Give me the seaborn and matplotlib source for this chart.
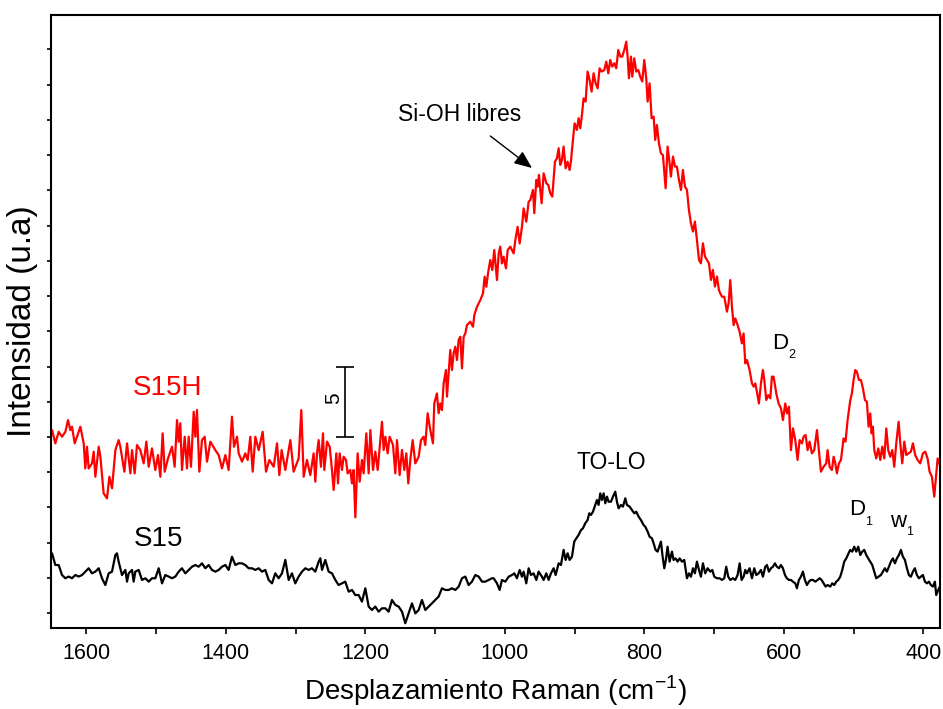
import matplotlib
matplotlib.use("Agg")
import matplotlib.pyplot as plt
import seaborn as sns
import pandas as pd

# ---------------- data ----------------
red_x = [1649.2, 1644.5, 1639.7, 1634.9, 1630.1, 1626.3, 1623.0, 1620.6, 1616.7, 1613.4,
         1608.6, 1603.8, 1601.5, 1599.1, 1596.7, 1591.9, 1589.5, 1587.1, 1582.3, 1579.9,
         1575.2, 1570.4, 1567.0, 1563.2, 1558.4, 1553.7, 1551.3, 1545.5, 1541.7, 1536.9,
         1534.5, 1530.7, 1527.4, 1522.6, 1517.8, 1514.0, 1510.6, 1505.9, 1501.1, 1497.3,
         1493.9, 1490.6, 1487.7, 1482.9, 1477.2, 1473.4, 1470.0, 1467.6, 1465.3, 1462.9,
         1459.0, 1455.7, 1453.3, 1450.0, 1446.1, 1443.7, 1441.4, 1438.0, 1434.2, 1430.4,
         1427.0, 1422.2, 1415.1, 1410.3, 1405.5, 1400.7, 1396.0, 1391.2, 1388.3, 1384.0,
         1381.6, 1376.8, 1372.1, 1368.7, 1364.9, 1361.5, 1357.7, 1352.9, 1347.2, 1342.4,
         1337.6, 1331.4, 1326.6, 1323.3, 1320.0, 1314.7, 1307.5, 1302.8, 1295.6, 1291.8,
         1288.4, 1283.7, 1278.9, 1274.1, 1271.7,
         1269.3, 1266.9, 1263.6, 1260.7, 1258.8, 1254.9, 1251.1, 1247.8, 1245.4, 1241.6,
         1239.2, 1236.8, 1233.5, 1231.1, 1227.7, 1225.3, 1221.5, 1219.1, 1216.8, 1214.3,
         1211.0, 1208.1, 1204.8, 1202.4, 1198.6, 1195.2, 1192.8, 1189.0, 1185.7, 1182.3,
         1178.5, 1176.1, 1173.7, 1171.3, 1168.0, 1165.1, 1160.3, 1157.0, 1154.6, 1150.8,
         1147.4, 1144.1, 1141.2, 1138.4, 1135.5, 1132.1, 1128.3, 1123.5, 1120.2, 1116.4,
         1114.0, 1110.6, 1106.8, 1103.0, 1101.1, 1097.3, 1094.9, 1092.5, 1090.1, 1087.7,
         1084.4, 1082.9, 1080.5, 1078.2, 1075.8, 1073.4, 1071.0, 1068.6, 1066.2, 1063.8,
         1061.4, 1059.0, 1056.6, 1054.2, 1049.5, 1045.6, 1043.7, 1039.9, 1037.5, 1035.1,
         1031.3, 1028.9, 1026.5, 1024.1, 1020.8, 1017.9, 1015.1, 1011.2, 1008.8, 1006.5,
         1004.1, 1001.7, 998.3, 995.9, 992.1, 987.3, 984.9, 981.6, 978.7, 975.4,
         973.0, 969.2, 965.8, 963.5,
         959.6, 957.7, 954.9, 952.9, 951.0, 949.1, 947.2, 944.3, 940.5, 937.7,
         934.8, 931.9, 928.1, 925.2, 922.8, 920.5, 918.1, 915.7, 912.8, 910.0,
         907.1, 905.2, 902.3, 899.9, 896.6, 894.2, 891.8, 889.4, 887.0, 884.1,
         881.3, 878.4, 875.5, 872.7, 869.8, 866.9, 864.1, 861.2, 857.4, 854.5,
         851.6, 848.8, 845.9, 843.0, 840.2, 837.3, 834.4, 831.6, 828.7, 825.8,
         823.9, 822.0, 819.1, 817.2, 814.4, 811.5, 808.6, 805.8, 802.9, 800.0,
         797.2, 795.2, 792.4, 789.5, 786.6, 784.3, 781.9, 779.0, 776.1, 773.3,
         769.4, 766.6, 763.7, 761.8, 758.9, 756.0, 753.2, 750.3, 747.4, 744.6,
         741.7, 738.8, 736.0, 733.1, 730.2, 727.4, 724.5, 721.6, 718.8, 715.9,
         713.0, 710.2, 707.3, 704.4, 701.6, 698.7, 695.8, 693.0, 691.1,
         688.6, 685.3, 681.5, 679.1, 676.7, 674.3, 671.9, 669.5, 666.2, 663.3,
         660.0, 657.6, 655.2, 652.8, 649.0, 645.6, 643.2, 640.8, 638.5, 635.6,
         632.7, 629.9, 627.9, 625.1, 622.2, 619.3, 617.0, 614.6, 610.7, 607.4,
         604.0, 601.2, 597.8, 595.4, 592.6, 589.7, 586.8, 583.5, 580.2, 577.3,
         573.9, 571.6, 568.7, 565.8, 563.0, 559.6, 556.3, 552.4, 549.6, 546.7,
         542.9, 539.1, 537.2, 534.3, 531.0, 528.5, 526.1, 523.8, 520.9, 518.0,
         514.2, 511.4, 508.5, 504.6, 502.3, 499.9, 497.5, 495.1, 492.2, 489.3,
         486.5, 483.6, 480.8, 478.4, 476.0, 474.1, 472.2, 470.2, 467.4, 464.5,
         461.6, 458.8, 455.9, 453.0, 450.2, 447.3, 444.4, 441.6, 438.7, 435.3,
         432.9, 430.1, 427.2, 424.3, 421.0, 417.7, 414.8, 411.5, 408.1, 404.3,
         400.5, 397.1, 393.8, 390.9, 387.6, 384.2, 381.3, 379.4, 376.6, 374.7]

red_y = [10.49, 9.55, 10.37, 10.02, 10.37, 11.20, 10.49, 10.73, 9.55, 10.02,
         10.73, 9.55, 7.77, 9.31, 7.77, 8.13, 8.96, 7.18, 9.31, 8.60,
         6.00, 5.65, 7.18, 6.36, 9.07, 9.78, 9.31, 7.54, 9.55, 7.42,
         9.07, 7.42, 9.43, 9.07, 8.13, 9.67, 7.89, 9.19, 7.66, 8.72,
         7.18, 10.26, 7.54, 8.48, 9.31, 7.89, 11.20, 9.67, 10.97, 7.66,
         10.02, 7.77, 10.02, 7.89, 11.79, 10.02, 11.91, 7.54, 9.78, 10.02,
         8.25, 9.67, 9.07, 8.72, 7.77, 8.72, 7.66, 11.44, 9.31, 10.02,
         8.84, 8.25, 8.84, 8.37, 10.02, 7.54, 10.02, 9.07, 10.37, 7.54,
         8.37, 7.89, 9.55, 7.30, 9.07, 7.66, 9.78, 7.54, 8.48, 11.91,
         7.18, 8.37, 7.30, 8.84, 6.83,
         8.84, 9.78, 7.89, 10.26, 7.66, 9.67, 9.31, 7.66, 6.24, 8.84,
         6.71, 8.84, 7.66, 8.60, 8.37, 7.42, 7.66, 6.71, 7.66, 4.30,
         8.84, 6.83, 8.37, 7.42, 10.26, 7.42, 10.49, 7.66, 8.96, 7.66,
         9.78, 11.08, 9.08, 10.02, 8.84, 10.02, 9.43, 7.42, 9.78, 7.30,
         9.08, 7.66, 8.84, 6.71, 8.37, 9.78, 8.13, 8.60, 9.78, 10.02,
         9.43, 11.68, 10.49, 9.55, 12.38, 13.09, 11.68, 12.38, 11.91, 13.80,
         14.75, 12.86, 14.51, 16.17, 14.75, 15.93, 16.40, 15.46, 16.88, 17.11,
         14.87, 17.11, 17.35, 17.94, 18.18, 17.82, 18.65, 19.24, 19.48, 19.71,
         20.19, 21.37, 20.66, 21.60, 22.55, 21.84, 23.26, 21.13, 23.02, 23.50,
         22.31, 22.79, 21.96, 23.26, 23.50, 23.02, 23.97, 24.91, 23.73, 24.91,
         26.21, 25.27, 26.69, 26.80,
         27.52, 25.87, 28.23, 27.76, 28.59, 27.52, 26.58, 28.70, 28.00, 27.88,
         27.29, 27.05, 29.53, 29.77, 30.48, 29.30, 29.65, 30.60, 29.06, 29.53,
         28.94, 29.53, 31.07, 32.25, 31.78, 32.61, 31.90, 32.84, 34.02, 33.79,
         35.92, 35.32, 34.50, 35.80, 35.09, 34.73, 36.15, 35.92, 36.03, 36.62,
         35.80, 36.74, 36.27, 36.51, 36.15, 37.45, 36.98, 36.98, 37.45, 38.04,
         36.98, 35.44, 36.98, 35.56, 36.86, 35.92, 36.03, 35.56, 35.21, 36.74,
         35.44, 33.79, 35.09, 32.61, 32.72, 31.07, 32.13, 30.83, 30.12, 30.00,
         27.64, 30.60, 29.41, 28.47, 29.89, 29.18, 29.18, 28.23, 27.52, 28.94,
         27.76, 27.52, 26.11, 25.16, 24.57, 25.28, 23.98, 22.56, 22.32, 23.74,
         22.80, 22.56, 22.32, 21.14, 21.85, 20.67, 21.38, 20.43, 20.19,
         19.95, 19.95, 18.89, 19.48, 21.13, 19.24, 17.94, 18.41, 17.94, 17.47,
         16.64, 17.35, 15.22, 15.46, 14.75, 13.80, 13.57, 13.80, 13.21, 12.38,
         13.80, 14.75, 14.04, 12.62, 12.97, 12.74, 14.28, 14.28, 13.09, 12.38,
         12.03, 11.20, 12.38, 11.67, 12.15, 9.07, 10.61, 9.78, 8.37, 9.78,
         9.55, 10.02, 10.14, 9.07, 9.67, 8.84, 9.07, 10.49, 9.07, 7.54,
         7.89, 8.13, 9.07, 7.89, 7.66, 8.60, 8.13, 7.42, 8.13, 8.37,
         9.90, 9.67, 11.20, 12.62, 13.09, 14.04, 14.75, 14.63, 14.04, 14.04,
         13.45, 12.62, 12.50, 10.73, 11.67, 10.26, 10.73, 9.07, 8.48, 9.19,
         8.37, 9.31, 8.48, 10.61, 9.07, 8.60, 9.07, 7.89, 9.55, 11.08,
         9.55, 8.13, 9.67, 8.72, 8.84, 8.96, 9.55, 8.72, 8.37, 8.13,
         8.84, 8.96, 8.48, 7.54, 7.18, 5.77, 7.42, 8.48, 8.13, 7.54]

black_x = [1649.2, 1644.5, 1639.7, 1634.9, 1630.1, 1625.3, 1620.6, 1615.8, 1611.0, 1606.2,
           1601.5, 1596.7, 1591.9, 1587.1, 1582.3, 1577.6, 1572.8, 1568.0, 1563.2, 1558.4,
           1556.1, 1553.7, 1548.9, 1544.1, 1541.7, 1539.3, 1534.5, 1532.2, 1529.8, 1525.0,
           1520.2, 1515.4, 1510.6, 1505.9, 1501.1, 1496.3, 1491.5, 1486.8, 1482.0, 1477.2,
           1472.4, 1467.6, 1462.9, 1458.1, 1453.3, 1448.5, 1443.7, 1439.0, 1434.2, 1429.4,
           1424.6, 1419.9, 1415.1, 1410.3, 1405.5, 1400.7, 1396.0, 1391.2, 1386.4, 1381.6,
           1376.8, 1372.1, 1367.3, 1362.5, 1357.7, 1352.9, 1348.2, 1343.4, 1338.6, 1333.8,
           1329.1, 1324.3, 1319.5, 1314.7, 1309.9, 1305.2, 1300.4, 1295.6, 1290.8, 1286.0,
           1281.3, 1276.5, 1271.7, 1266.9, 1264.5, 1262.1, 1257.4, 1252.6, 1247.8, 1243.0,
           1238.3, 1233.5, 1228.7, 1223.9, 1219.1, 1214.4, 1209.6, 1204.8, 1200.0, 1195.2,
           1190.5, 1185.7, 1180.9, 1176.1, 1171.3, 1166.6, 1161.8, 1157.0, 1152.2, 1147.4,
           1142.7, 1137.9, 1133.1, 1128.3, 1123.5, 1118.8, 1114.0, 1109.2, 1104.4, 1099.7,
           1094.9, 1090.1, 1085.3, 1080.5, 1075.8, 1071.0, 1066.2, 1061.4, 1056.6, 1051.9,
           1047.1, 1042.3, 1037.5, 1032.7, 1028.0, 1023.2, 1018.4,
           1016.0, 1011.2, 1007.4, 1004.1, 999.3, 994.5, 989.7, 986.4, 982.6, 978.7,
           975.4, 973.0, 969.2, 965.8, 962.5, 958.7, 954.8, 951.5, 946.7, 944.3,
           940.5, 937.2, 933.8, 930.0, 927.1, 922.8, 919.5, 915.7, 912.8, 909.9,
           907.1, 903.7, 900.4, 897.5, 894.2, 890.8, 888.0, 884.6, 881.3, 878.9,
           876.5, 873.6, 870.3, 867.9, 865.5, 863.1, 860.7, 858.3, 855.9, 853.5,
           851.2, 847.8, 844.9, 841.6, 839.2, 836.8, 833.5, 830.6, 827.2, 824.9,
           821.0, 817.7, 814.3, 811.5, 808.1, 804.8, 801.0, 798.6, 795.2, 792.4,
           789.0, 786.6, 783.8, 780.9, 778.5, 776.1, 773.7, 771.3, 769.0, 766.6,
           763.7, 760.3, 758.0, 755.1, 752.2, 749.3, 746.0, 742.7, 738.8, 736.0,
           733.1, 730.2, 727.4, 724.5, 721.6, 718.8, 715.9, 712.6, 709.2, 705.4,
           702.5, 699.6, 695.8, 692.0, 688.7, 685.3, 682.5, 679.6, 676.7, 672.9,
           669.5, 666.2, 663.3, 660.5, 657.6, 655.2, 652.8, 649.0, 645.6, 642.3,
           639.4, 636.1, 632.7, 629.9, 626.5, 624.1, 621.3, 618.4, 615.5, 612.7,
           609.8, 606.9, 604.1, 601.2, 598.3, 595.5, 592.6, 589.7, 586.9, 583.5,
           581.1, 578.3, 575.4, 572.5, 569.7, 566.8, 563.9, 561.1, 558.2, 554.8,
           551.5, 548.6, 545.8, 542.9, 540.0, 537.2, 533.3, 530.5, 527.6, 524.7,
           521.9, 519.0, 516.1, 513.3, 510.4, 507.1, 504.7, 501.8, 498.9, 496.1,
           493.2, 490.3, 487.5, 484.6, 481.7, 478.9, 476.0, 473.1, 470.3, 467.4,
           464.1, 460.7, 457.8, 455.0, 452.1, 449.2, 446.4, 443.5, 440.6, 437.8,
           434.9, 432.0, 429.2, 426.3, 423.4, 420.6, 417.7, 414.8, 412.0, 409.1,
           406.2, 403.4, 400.5, 397.6, 394.7, 391.9, 389.0, 386.1, 383.3, 381.4,
           378.5, 376.1]

black_y = [1.75, 0.92, 0.92, 0.21, -0.02, 0.10, -0.02, 0.21, 0.10, 0.21,
           0.45, 0.69, 0.33, 0.45, 0.69, -0.02, -0.50, 0.33, 0.45, 1.63,
           1.75, 1.16, 0.21, 0.57, -0.26, 0.33, 0.57, -0.26, 0.45, 0.57,
           -0.14, -0.02, -0.26, -0.02, -0.02, 0.69, -0.38, 0.21, 0.10, -0.02,
           0.10, 0.45, 0.69, 0.33, 0.57, 0.80, 0.92, 0.80, 1.04, 0.69,
           0.92, 0.57, 0.45, 0.57, 0.80, 0.92, 0.57, 1.51, 0.92, 1.04,
           1.04, 0.92, 0.69, 0.69, 0.57, 0.69, 0.45, 0.57, -0.14, -0.38,
           0.33, -0.02, 0.33, 1.28, -0.14, 0.33, -0.38, 0.10, 0.45, 0.69,
           0.57, 0.69, 0.45, 1.16, 1.40, 0.57, 1.28, 0.45, 0.33, -0.14,
           -0.50, -0.38, -0.26, -0.97, -0.85, -1.21, -1.21, -1.68, -0.73, -2.03,
           -2.27, -2.03, -2.39, -2.15, -2.15, -2.39, -1.56, -1.91, -2.03, -2.39,
           -3.21, -2.51, -1.80, -2.51, -2.27, -1.56, -2.27, -2.03, -1.80, -1.56,
           -1.32, -0.73, -0.85, -0.85, -0.73, -0.85, -0.62, -0.02, 0.10, -0.50,
           -0.26, 0.21, 0.10, -0.26, -0.26, -0.14, -0.02,
           -0.02, -0.38, -0.85, -0.14, -0.26, 0.09, 0.21, 0.33, -0.02, 0.57,
           0.09, 0.45, -0.38, 0.69, 0.21, 0.33, -0.14, 0.45, 0.09, -0.14,
           0.33, -0.14, 0.33, 0.69, 0.21, 1.04, 0.92, 1.99, 1.28, 1.75,
           1.28, 1.51, 2.58, 2.81, 3.05, 3.40, 3.52, 3.88, 4.11, 4.59,
           4.47, 4.70, 5.18, 5.53, 5.18, 6.00, 5.53, 6.00, 5.30, 5.77,
           5.41, 5.41, 5.77, 6.12, 5.41, 4.94, 5.18, 5.06, 5.65, 5.18,
           5.06, 4.82, 4.59, 4.70, 4.35, 4.11, 3.76, 3.64, 3.29, 2.93,
           2.81, 2.46, 1.99, 1.87, 2.22, 2.58, 1.51, 0.69, 1.28, 2.22,
           1.16, 1.87, 1.28, 1.39, 1.16, 1.39, 1.16, 1.28, -0.02, 0.33,
           0.09, 0.69, 0.33, 1.16, 0.57, 0.09, 1.04, 0.33, 0.69, 0.45,
           0.57, 0.09, -0.02, -0.02, -0.14, -0.02, 0.80, 0.09, -0.14, -0.02,
           -0.14, 0.21, 1.04, -0.14, 0.09, 0.57, 0.33, 0.69, -0.02, 0.69,
           0.21, 0.33, 0.57, 0.09, 0.80, 0.92, 0.45, 0.69, 0.80, 1.04,
           0.80, 0.69, 0.92, 0.69, 0.21, -0.02, -0.14, -0.14, -0.26, -0.38,
           -0.73, -0.14, 0.09, 0.45, -0.14, -0.50, -0.26, -0.14, -0.14, -0.26,
           -0.14, -0.02, -0.14, -0.38, -0.61, -0.50, -0.61, -0.38, -0.50, -0.26,
           -0.14, 0.09, 0.57, 1.16, 1.39, 1.75, 1.99, 1.87, 2.22, 1.87,
           2.22, 1.63, 1.87, 1.99, 1.63, 1.39, 1.16, 0.92, 0.45, -0.02,
           0.09, 0.21, 0.45, 0.69, 0.45, 0.80, 1.16, 1.39, 1.04, 1.39,
           1.63, 1.99, 1.51, 1.28, 0.69, 0.21, 0.09, 0.45, 0.69, 0.21,
           -0.02, 0.09, 0.21, -0.26, -0.38, -0.26, -0.50, -0.61, -0.26, -1.21,
           -0.85, -0.61]

series_names = ["S15H", "S15"]
x_ticks = [1600, 1400, 1200, 1000, 800, 600, 400]
x_tick_labels = ["1600", "1400", "1200", "1000", "800", "600", "400"]
scale_bar = (1229, 10.0, 15.0)   # x, y from, y to  (5 units)

# ---------------- figure ----------------
sns.set_style("ticks")
plt.rcParams["font.family"] = ["Liberation Sans", "DejaVu Sans"]
plt.rcParams["axes.linewidth"] = 1.5
for key in ["text.color", "axes.labelcolor", "xtick.color", "ytick.color", "axes.edgecolor"]:
    plt.rcParams[key] = "black"

fig = plt.figure(figsize=(9.43, 7.09), dpi=100)
ax = fig.add_axes([0.0546, 0.1142, 0.9422, 0.8646])

df_red = pd.DataFrame({"x": red_x, "y": red_y})
df_blk = pd.DataFrame({"x": black_x, "y": black_y})
sns.lineplot(data=df_red, x="x", y="y", color="#ff0000", lw=1.6,
             estimator=None, sort=False, ax=ax)
sns.lineplot(data=df_blk, x="x", y="y", color="black", lw=1.6,
             estimator=None, sort=False, ax=ax)

ax.set_xlim(1650, 376)
ax.set_ylim(-3.55, 39.93)

ax.set_xticks(x_ticks)
ax.set_xticks(list(range(400, 1700, 100)), minor=True)
ax.set_xticklabels(x_tick_labels, fontsize=15.5)
ax.set_yticks([0, 5, 10, 15, 20, 25, 30, 35])
ax.set_yticks([-2.5, 2.5, 7.5, 12.5, 17.5, 22.5, 27.5, 32.5, 37.5], minor=True)
ax.set_yticklabels([])
ax.tick_params(axis="x", which="both", direction="out", length=4.5, width=1.2, pad=6)
ax.tick_params(axis="y", which="both", direction="out", length=3, width=1.2)
for s in ax.spines.values():
    s.set_visible(True)
    s.set_linewidth(1.5)
    s.set_color("black")

ax.set_xlabel(r"Desplazamiento Raman (cm$^{\mathregular{-1}}$)", fontsize=20, labelpad=7)
ax.set_ylabel("Intensidad (u.a)", fontsize=24, labelpad=3)

# annotations
ax.text(1484, 13.5, series_names[0], color="#ff0000", fontsize=20, ha="center", va="center")
ax.text(1497, 2.8, series_names[1], color="black", fontsize=20, ha="center", va="center")
ax.text(847, 8.2, "TO-LO", fontsize=16.5, ha="center", va="center")
ax.text(1065, 32.9, "Si-OH libres", fontsize=16.5, ha="center", va="center")
ax.annotate("", xy=(961, 29.08), xytext=(1020.8, 31.35),
            arrowprops=dict(arrowstyle="-|>,head_length=0.6,head_width=0.25",
                            color="black", lw=1.0, mutation_scale=18, shrinkA=0, shrinkB=0))
ax.text(616.5, 16.24, "D", fontsize=16, ha="left", va="baseline")
ax.text(593.5, 15.6, "2", fontsize=9, ha="left", va="baseline")
ax.text(506, 4.47, "D", fontsize=16, ha="left", va="baseline")
ax.text(483, 3.76, "1", fontsize=9, ha="left", va="baseline")
ax.text(447, 3.62, "w", fontsize=16, ha="left", va="baseline")
ax.text(424, 3.05, "1", fontsize=9, ha="left", va="baseline")

# scale bar (5 units)
bx, b0, b1 = scale_bar
ax.errorbar([bx], [(b0 + b1) / 2], yerr=[(b1 - b0) / 2], color="black",
            lw=1.2, capsize=6.5, capthick=1.2, fmt="none")
ax.text(1246, 12.77, "5", fontsize=15, rotation=90, ha="center", va="center")

fig.savefig("out.png", dpi=100)
